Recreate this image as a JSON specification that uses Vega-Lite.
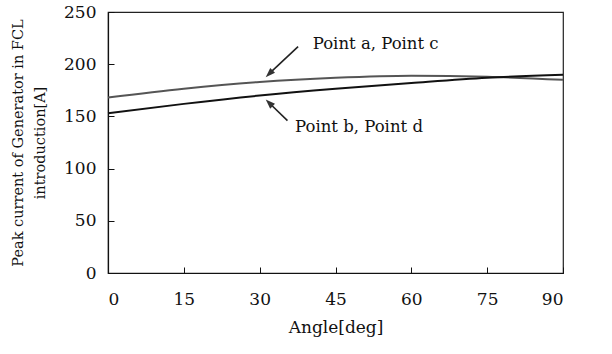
{
  "$schema": "https://vega.github.io/schema/vega-lite/v6.json",
  "width": 455,
  "height": 261,
  "autosize": "none",
  "padding": {"left": 108, "top": 12, "right": 49, "bottom": 81},
  "background": "white",
  "config": {
    "font": "DejaVu Serif",
    "view": {"stroke": "#222", "strokeWidth": 1.2},
    "axis": {
      "grid": false,
      "domainColor": "#111",
      "domainWidth": 1.2,
      "tickColor": "#111",
      "tickSize": -6,
      "labelFont": "DejaVu Serif",
      "labelFontSize": 17,
      "labelColor": "#111",
      "titleFont": "DejaVu Serif",
      "titleFontWeight": "normal",
      "titleColor": "#111"
    }
  },
  "datasets": {
    "curves": [
      {"angle": 0, "current": 168, "series": "Point a, Point c"},
      {"angle": 15, "current": 176.5, "series": "Point a, Point c"},
      {"angle": 30, "current": 183, "series": "Point a, Point c"},
      {"angle": 45, "current": 187, "series": "Point a, Point c"},
      {"angle": 60, "current": 189, "series": "Point a, Point c"},
      {"angle": 75, "current": 188, "series": "Point a, Point c"},
      {"angle": 90, "current": 185, "series": "Point a, Point c"},
      {"angle": 0, "current": 153, "series": "Point b, Point d"},
      {"angle": 15, "current": 162, "series": "Point b, Point d"},
      {"angle": 30, "current": 170, "series": "Point b, Point d"},
      {"angle": 45, "current": 176.5, "series": "Point b, Point d"},
      {"angle": 60, "current": 182, "series": "Point b, Point d"},
      {"angle": 75, "current": 187, "series": "Point b, Point d"},
      {"angle": 90, "current": 190, "series": "Point b, Point d"}
    ],
    "arrows": [
      {"id": "ac", "tailX": 37.6, "tailY": 216.8, "tipX": 31.3, "tipY": 188.0, "headX": 32.0, "headY": 191.4},
      {"id": "bd", "tailX": 35.5, "tailY": 145.9, "tipX": 31.3, "tipY": 165.7, "headX": 32.0, "headY": 162.4}
    ],
    "labels": [
      {"text": "Point a, Point c", "x": 40.5, "y": 219},
      {"text": "Point b, Point d", "x": 37.0, "y": 140}
    ]
  },
  "layer": [
    {
      "data": {"name": "curves"},
      "mark": {"type": "line", "interpolate": "monotone", "strokeWidth": 2},
      "encoding": {
        "x": {
          "field": "angle",
          "type": "quantitative",
          "scale": {"domain": [0, 90], "nice": false},
          "axis": {"values": [0, 15, 30, 45, 60, 75, 90], "labelPadding": 24, "title": "Angle[deg]", "titleFontSize": 17, "titlePadding": 12}
        },
        "y": {
          "field": "current",
          "type": "quantitative",
          "scale": {"domain": [0, 250], "nice": false},
          "axis": {
            "values": [0, 50, 100, 150, 200, 250],
            "labelPadding": 18,
            "title": ["Peak current of Generator in FCL", "introduction[A]"],
            "titleFontSize": 14.5,
            "titleLineHeight": 22,
            "titlePadding": 16
          }
        },
        "color": {
          "field": "series",
          "type": "nominal",
          "scale": {"domain": ["Point a, Point c", "Point b, Point d"], "range": ["#555", "#111"]},
          "legend": null
        }
      }
    },
    {
      "data": {"name": "arrows"},
      "mark": {"type": "rule", "color": "#222", "strokeWidth": 1.6},
      "encoding": {
        "x": {"field": "tailX", "type": "quantitative"},
        "y": {"field": "tailY", "type": "quantitative"},
        "x2": {"field": "headX"},
        "y2": {"field": "headY"}
      }
    },
    {
      "data": {"name": "arrows"},
      "transform": [{"filter": "datum.id === 'ac'"}],
      "mark": {"type": "point", "shape": "M0,-1L0.6,0.7L-0.6,0.7Z", "filled": true, "color": "#333", "opacity": 1, "size": 130, "angle": 226},
      "encoding": {
        "x": {"field": "headX", "type": "quantitative"},
        "y": {"field": "headY", "type": "quantitative"}
      }
    },
    {
      "data": {"name": "arrows"},
      "transform": [{"filter": "datum.id === 'bd'"}],
      "mark": {"type": "point", "shape": "M0,-1L0.6,0.7L-0.6,0.7Z", "filled": true, "color": "#333", "opacity": 1, "size": 130, "angle": 315},
      "encoding": {
        "x": {"field": "headX", "type": "quantitative"},
        "y": {"field": "headY", "type": "quantitative"}
      }
    },
    {
      "data": {"name": "labels"},
      "mark": {"type": "text", "align": "left", "baseline": "middle", "font": "DejaVu Serif", "fontSize": 16.5, "color": "#111"},
      "encoding": {
        "x": {"field": "x", "type": "quantitative"},
        "y": {"field": "y", "type": "quantitative"},
        "text": {"field": "text"}
      }
    }
  ]
}
